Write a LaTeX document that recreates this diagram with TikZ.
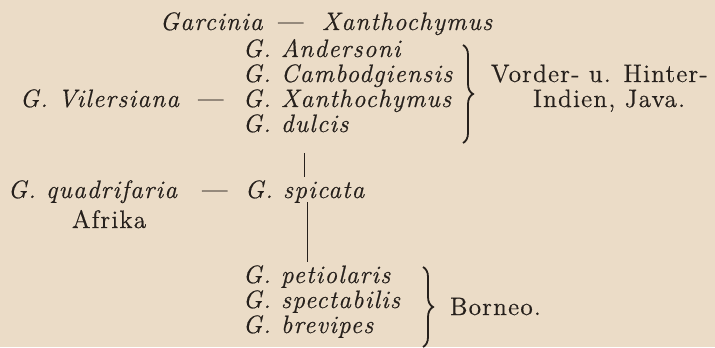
\documentclass[tikz,border=0pt]{standalone}
\usepackage{fontspec}
\setmainfont{Latin Modern Roman}
\newfontfamily\spfam{Latin Modern Roman}[LetterSpace=5,FakeBold=0.6]
\usetikzlibrary{decorations.pathreplacing}
\definecolor{paper}{RGB}{235,220,199}
\definecolor{ink}{RGB}{38,32,28}
\begin{document}
\begin{tikzpicture}[x=0.5pt,y=-0.5pt,
  every node/.style={inner sep=0pt,outer sep=0pt,anchor=base west,text=ink},
  sp/.style={font=\fontsize{12.6}{15}\spfam\itshape},
  rm/.style={font=\fontsize{12.6}{15}\spfam},
  dsh/.style={font=\fontsize{13}{15}\spfam},
  vline/.style={draw=ink,line width=0.4pt},
  bracestyle/.style={draw=ink,line width=0.9pt,decorate,decoration={brace,amplitude=5pt}}]
\fill[paper] (0,0) rectangle (715,347);
\useasboundingbox (0,0) rectangle (715,347);
% row 1
\node[sp] (gar) at (160,30) {Garcinia};
\node[dsh] (d1) at (278,30) {\textemdash};
\node[sp] (xan) at (322,30) {Xanthochymus};
% group 1
\node[sp] (and) at (243,57) {G. Andersoni};
\node[sp] (cam) at (243,82) {G. Cambodgiensis};
\node[sp] (vil) at (20,107) {G. Vilersiana};
\node[dsh] (d2) at (198,107) {\textemdash};
\node[sp] (gx) at (243,107) {G. Xanthochymus};
\node[sp] (dul) at (243,132) {G. dulcis};
\coordinate (b1t) at (463,45);
\coordinate (b1b) at (463,143);
\draw[bracestyle] (b1t) -- (b1b);
\node[rm] (vor) at (491,82) {Vorder- u. Hinter-};
\node[rm] (ind) at (533,107) {Indien, Java.};
% connector 1
\coordinate (l1a) at (304,153);
\coordinate (l1b) at (304,177);
\draw[vline] (l1a) -- (l1b);
% spicata row
\node[sp] (quad) at (8,198) {G. quadrifaria};
\node[dsh] (d3) at (202,198) {\textemdash};
\node[sp] (spi) at (245,198) {G. spicata};
\node[rm] (afr) at (72,228) {Afrika};
\coordinate (l2a) at (307,202);
\coordinate (l2b) at (307,262);
\draw[vline] (l2a) -- (l2b);
% group 2
\node[sp] (pet) at (243,283) {G. petiolaris};
\node[sp] (spe) at (243,308) {G. spectabilis};
\node[sp] (bre) at (243,333) {G. brevipes};
\coordinate (b2t) at (423,267);
\coordinate (b2b) at (423,347);
\draw[bracestyle] (b2t) -- (b2b);
\node[rm] (bor) at (450,315) {Borneo.};
\end{tikzpicture}
\end{document}
